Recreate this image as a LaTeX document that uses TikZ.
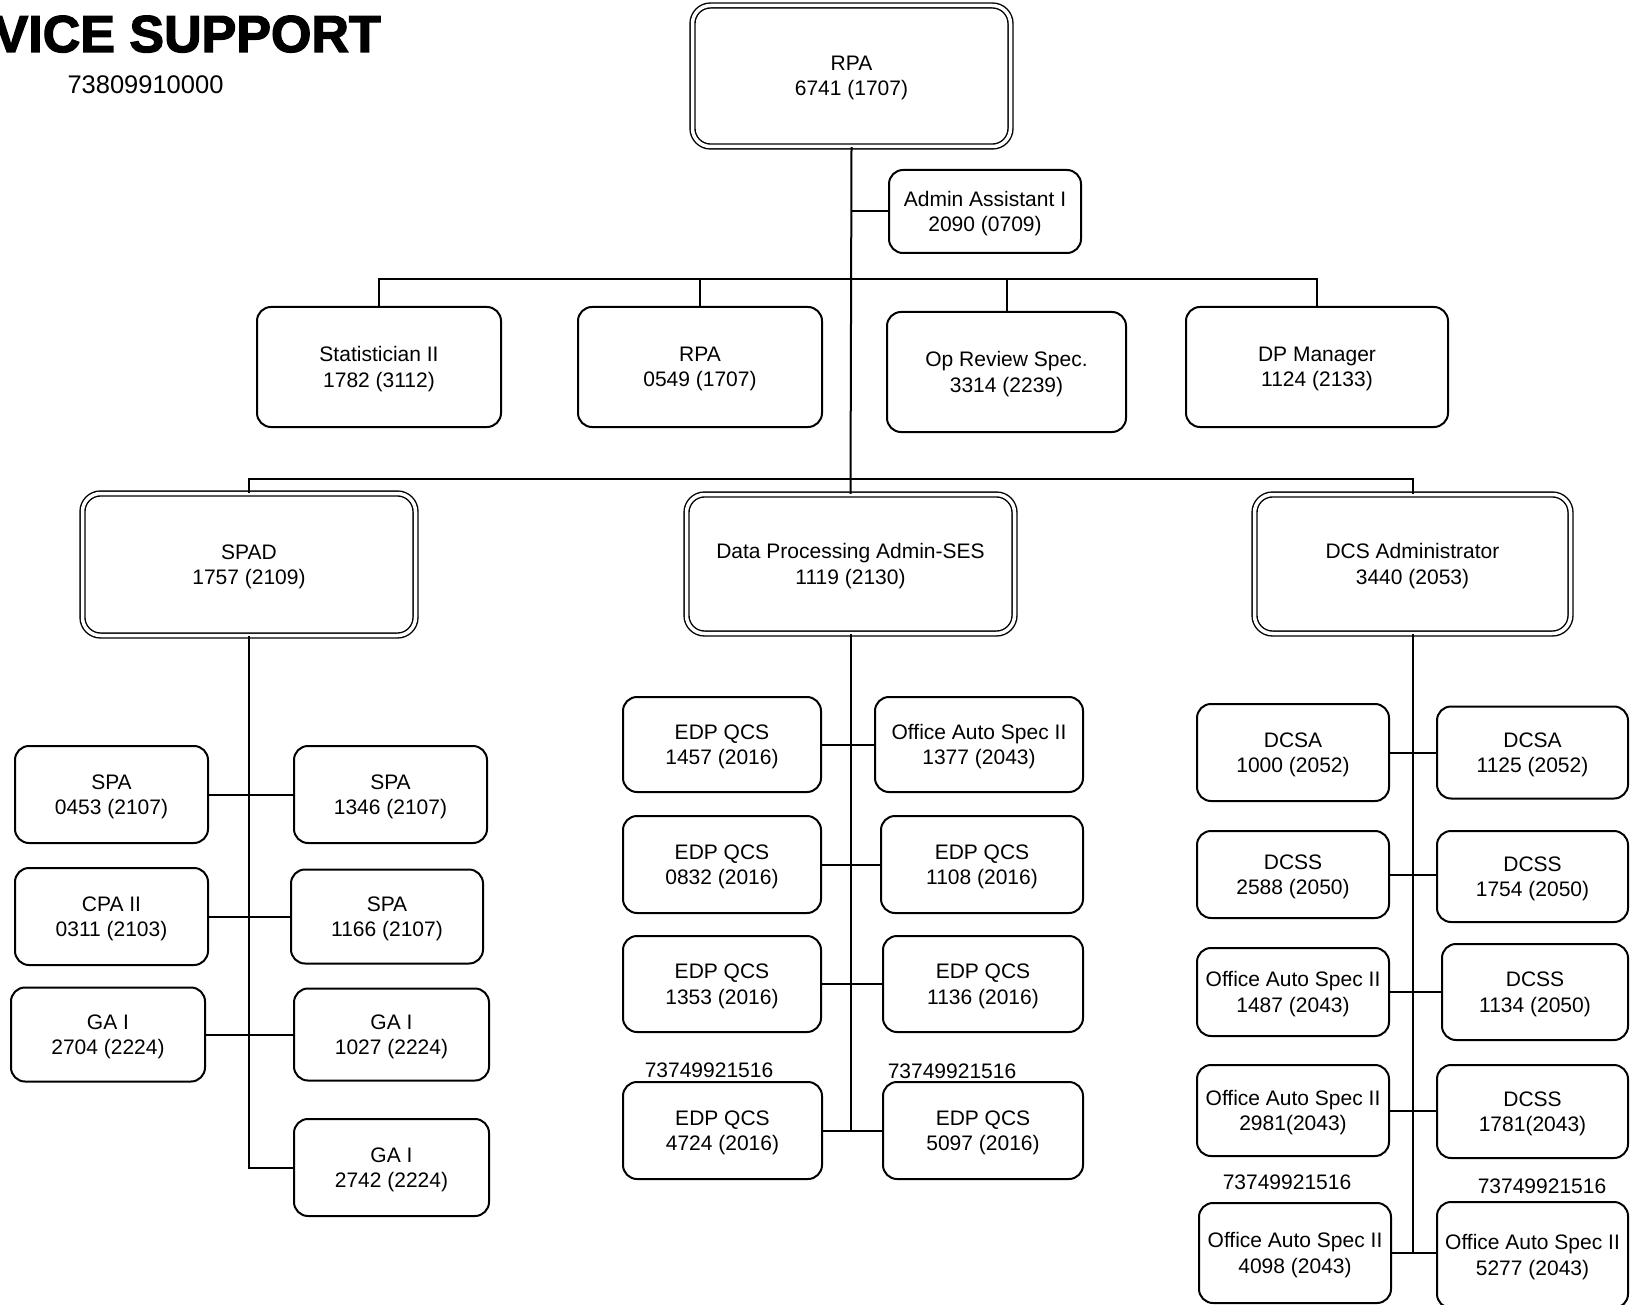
\documentclass[tikz,border=0pt]{standalone}
\usepackage{fontspec}
\setmainfont{Liberation Sans}
\newfontfamily\titlefont{Liberation Sans}[UprightFont={* Bold}, UprightFeatures={FakeBold=2.5}]
\newcommand\boxfont{\fontsize{21}{25.5}\selectfont}

\tikzset{
  post/.style={draw, line width=2pt, rounded corners=14pt, align=center,
    inner sep=0pt, font=\boxfont, text depth=0pt},
  head/.style={post, double, double distance=3.5pt, line width=1.4pt,
    rounded corners=18pt},
  link/.style={line width=2pt},
  tag/.style={font=\boxfont, inner sep=0pt}
}

\begin{document}
\begin{tikzpicture}[x=1pt, y=-1pt]
\useasboundingbox (0,0) rectangle (1630,1305);

% heading
\node[anchor=base east, inner sep=0pt, font=\titlefont\fontsize{52}{60}\selectfont] (title) at (381,52) {VICE SUPPORT};
\node[anchor=base, inner sep=0pt, font=\fontsize{25.5}{30}\selectfont] (code) at (145.5,94) {73809910000};

% top level
\node[head, minimum width=318pt, minimum height=141pt] (rpaTop) at (851.5,76) {RPA\\6741 (1707)};
\node[post, minimum width=192pt, minimum height=83pt] (admin) at (985,211.5) {Admin Assistant I\\2090 (0709)};

% staff row
\node[post, minimum width=244pt, minimum height=120pt] (stat) at (379,367) {Statistician II\\1782 (3112)};
\node[post, minimum width=244pt, minimum height=120pt] (rpa2) at (700,367) {RPA\\0549 (1707)};
\node[post, minimum width=239pt, minimum height=120pt] (opr) at (1006.5,372) {Op Review Spec.\\3314 (2239)};
\node[post, minimum width=262pt, minimum height=120pt] (dpm) at (1317,367) {DP Manager\\1124 (2133)};

% division heads
\node[head, minimum width=333pt, minimum height=142pt] (spad) at (249,564.5) {SPAD\\1757 (2109)};
\node[head, minimum width=328pt, minimum height=139pt] (dpa) at (850.5,564) {Data Processing Admin-SES\\1119 (2130)};
\node[head, minimum width=316pt, minimum height=139pt] (dcs) at (1412.5,564) {DCS Administrator\\3440 (2053)};

% SPAD unit
\node[post, minimum width=193pt, minimum height=97pt] (spa1) at (111.5,794.5) {SPA\\0453 (2107)};
\node[post, minimum width=193pt, minimum height=97pt] (spa2) at (390.5,794.5) {SPA\\1346 (2107)};
\node[post, minimum width=193pt, minimum height=97pt] (cpa) at (111.5,916.5) {CPA II\\0311 (2103)};
\node[post, minimum width=192pt, minimum height=94pt] (spa3) at (387,916.5) {SPA\\1166 (2107)};
\node[post, minimum width=194pt, minimum height=94pt] (ga1) at (108,1034.5) {GA I\\2704 (2224)};
\node[post, minimum width=195pt, minimum height=92pt] (ga2) at (391.5,1034.5) {GA I\\1027 (2224)};
\node[post, minimum width=195pt, minimum height=97pt] (ga3) at (391.5,1167.5) {GA I\\2742 (2224)};

% data processing unit
\node[post, minimum width=198pt, minimum height=95pt] (e1457) at (722,744.5) {EDP QCS\\1457 (2016)};
\node[post, minimum width=208pt, minimum height=95pt] (o1377) at (979,744.5) {Office Auto Spec II\\1377 (2043)};
\node[post, minimum width=198pt, minimum height=97pt] (e0832) at (722,864.5) {EDP QCS\\0832 (2016)};
\node[post, minimum width=202pt, minimum height=97pt] (e1108) at (982,864.5) {EDP QCS\\1108 (2016)};
\node[post, minimum width=198pt, minimum height=96pt] (e1353) at (722,984) {EDP QCS\\1353 (2016)};
\node[post, minimum width=200pt, minimum height=96pt] (e1136) at (983,984) {EDP QCS\\1136 (2016)};
\node[post, minimum width=199pt, minimum height=97pt] (e4724) at (722.5,1130.5) {EDP QCS\\4724 (2016)};
\node[post, minimum width=200pt, minimum height=97pt] (e5097) at (983,1130.5) {EDP QCS\\5097 (2016)};
\node[tag] (n4724) at (709,1070) {73749921516};
\node[tag] (n5097) at (952,1071) {73749921516};

% DCS unit
\node[post, minimum width=192pt, minimum height=97pt] (dcsa1) at (1293,752.5) {DCSA\\1000 (2052)};
\node[post, minimum width=191pt, minimum height=92pt] (dcsa2) at (1532.5,752.5) {DCSA\\1125 (2052)};
\node[post, minimum width=192pt, minimum height=87pt] (dcss1) at (1293,874.5) {DCSS\\2588 (2050)};
\node[post, minimum width=191pt, minimum height=91pt] (dcss2) at (1532.5,876.5) {DCSS\\1754 (2050)};
\node[post, minimum width=192pt, minimum height=88pt] (oas1487) at (1293,992) {Office Auto Spec II\\1487 (2043)};
\node[post, minimum width=186pt, minimum height=96pt] (dcss1134) at (1535,992) {DCSS\\1134 (2050)};
\node[post, minimum width=192pt, minimum height=91pt] (oas2981) at (1293,1110.5) {Office Auto Spec II\\2981(2043)};
\node[post, minimum width=191pt, minimum height=93pt] (dcss1781) at (1532.5,1111.5) {DCSS\\1781(2043)};
\node[post, minimum width=192pt, minimum height=100pt] (oas4098) at (1295,1253) {Office Auto Spec II\\4098 (2043)};
\node[post, minimum width=191pt, minimum height=106pt] (oas5277) at (1532.5,1255) {Office Auto Spec II\\5277 (2043)};
\node[tag] (n4098) at (1287,1182) {73749921516};
\node[tag] (n5277) at (1542,1186) {73749921516};

% connectors: top
\coordinate (bus1) at (851,279);
\coordinate (bus2) at (851,479);
\draw[link] (rpaTop.south) -- (dpa.north);
\draw[link] (admin.west) -- (admin.west -| rpaTop.south);
\draw[link] (stat.north) -- (stat.north |- bus1) -- (dpm.north |- bus1) -- (dpm.north);
\draw[link] (rpa2.north) -- (rpa2.north |- bus1);
\draw[link] (opr.north) -- (opr.north |- bus1);
\draw[link] (spad.north) -- (spad.north |- bus2) -- (dcs.north |- bus2) -- (dcs.north);

% connectors: SPAD unit
\draw[link] (spad.south) -- (spad.south |- ga3.west) -- (ga3.west);
\draw[link] (spa1.east) -- (spa2.west |- spa1.east);
\draw[link] (cpa.east) -- (spa3.west |- cpa.east);
\draw[link] (ga1.east) -- (ga2.west |- ga1.east);

% connectors: data processing unit
\draw[link] (dpa.south) -- (dpa.south |- e4724.east);
\draw[link] (e1457.east) -- (o1377.west |- e1457.east);
\draw[link] (e0832.east) -- (e1108.west |- e0832.east);
\draw[link] (e1353.east) -- (e1136.west |- e1353.east);
\draw[link] (e4724.east) -- (e5097.west |- e4724.east);

% connectors: DCS unit
\draw[link] (dcs.south) -- (dcs.south |- oas4098.east);
\draw[link] (dcsa1.east) -- (dcsa2.west |- dcsa1.east);
\draw[link] (dcss1.east) -- (dcss2.west |- dcss1.east);
\draw[link] (oas1487.east) -- (dcss1134.west |- oas1487.east);
\draw[link] (oas2981.east) -- (dcss1781.west |- oas2981.east);
\draw[link] (oas4098.east) -- (oas5277.west |- oas4098.east);
\end{tikzpicture}
\end{document}
